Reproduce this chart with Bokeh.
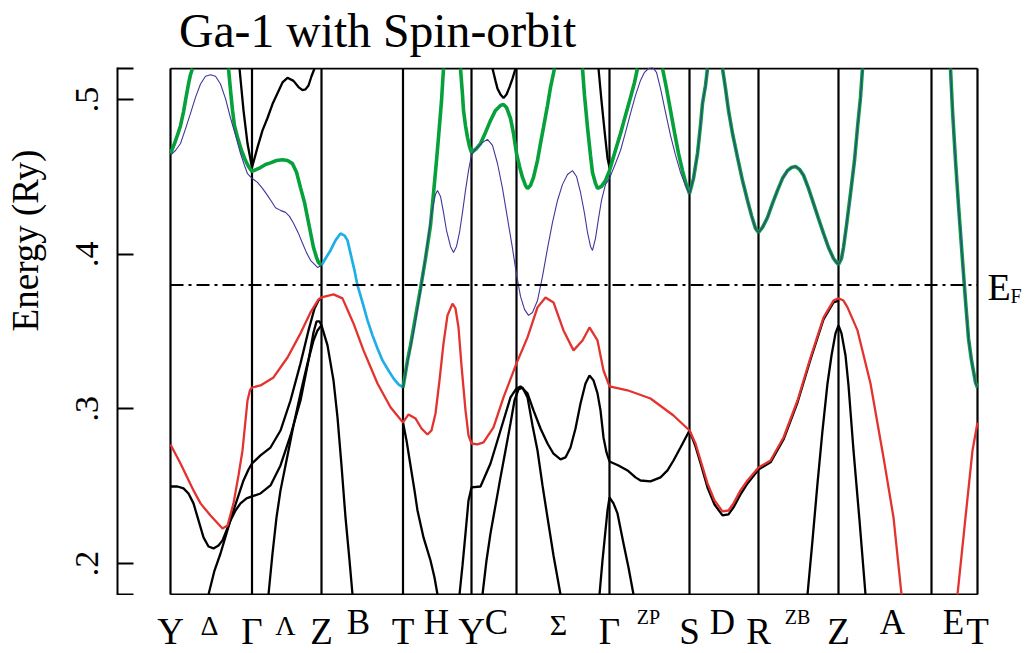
import math
from bokeh.plotting import figure
from bokeh.layouts import column, row
from bokeh.models import Range1d, FixedTicker, ColumnDataSource
from bokeh.core.properties import value
from bokeh.embed import file_html
from bokeh.resources import INLINE

# ---------------- data ----------------
TITLE = "Ga-1 with Spin-orbit"
Y_LABEL = "Energy (Ry)"
E_FERMI = 0.38
E_MIN, E_MAX = 0.18, 0.52

# high-symmetry points along the path (k distance, arbitrary units)
KPOS = [0.0, 0.815, 1.51, 2.325, 3.01, 3.46, 4.39, 5.19, 5.88, 6.68, 7.61, 8.07]
KLABELS = ["Y", "Γ", "Z", "T", "Y", "", "Γ", "S", "R", "Z", "", "T"]
MID_POS = [0.39, 1.15, 1.88, 2.66, 3.26, 3.88, 4.78, 5.52, 6.27, 7.22, 7.83]
MID_LABELS = ["Δ", "Λ", "B", "H", "C", "Σ", "ZP", "D", "ZB", "A", "E"]
Y_TICKS = [0.2, 0.3, 0.4, 0.5]
Y_TICK_LABELS = [".2", ".3", ".4", ".5"]

# bands: (k, E in Ry)
BLK_A = [(0.38, 0.180), (0.44, 0.1955), (0.50, 0.2065), (0.56, 0.2195), (0.62, 0.2324), (0.68, 0.244),
         (0.73, 0.2537), (0.78, 0.2608), (0.815, 0.2647), (0.90, 0.2699), (1.00, 0.275), (1.10, 0.286),
         (1.20, 0.3054), (1.30, 0.3294), (1.38, 0.3507), (1.44, 0.3649), (1.48, 0.370), (1.51, 0.372)]
BLK_B = [(0.00, 0.2498), (0.07, 0.2498), (0.13, 0.2486), (0.18, 0.2453), (0.23, 0.2389), (0.28, 0.2279),
         (0.33, 0.2169), (0.38, 0.211), (0.43, 0.2098), (0.48, 0.2117), (0.52, 0.215), (0.60, 0.2279),
         (0.65, 0.2343), (0.70, 0.2389), (0.76, 0.2421), (0.815, 0.2434), (0.90, 0.2453), (1.00, 0.2505),
         (1.10, 0.2634), (1.20, 0.2828), (1.30, 0.3054), (1.38, 0.3313), (1.43, 0.3494), (1.46, 0.3565),
         (1.49, 0.3565), (1.51, 0.354), (1.57, 0.341), (1.63, 0.3184), (1.67, 0.2945), (1.71, 0.2634),
         (1.75, 0.2298), (1.79, 0.202), (1.82, 0.180)]
BLK_D = [(0.98, 0.180), (1.02, 0.2065), (1.06, 0.2298), (1.10, 0.2473), (1.17, 0.2699), (1.23, 0.2893),
         (1.30, 0.310), (1.37, 0.3294), (1.43, 0.3442), (1.47, 0.3507), (1.51, 0.354)]
BLK_E = [(2.325, 0.2912), (2.36, 0.2796), (2.40, 0.2634), (2.44, 0.2473), (2.47, 0.2343), (2.53, 0.2169),
         (2.60, 0.202), (2.64, 0.191), (2.67, 0.180)]
BLK_F = [(2.89, 0.180), (2.92, 0.1988), (2.95, 0.2195), (2.98, 0.2408), (3.01, 0.2492), (3.10, 0.2498),
         (3.20, 0.2647), (3.30, 0.286), (3.40, 0.3074), (3.46, 0.3132), (3.50, 0.3145), (3.57, 0.310),
         (3.63, 0.299), (3.70, 0.2873), (3.77, 0.2776), (3.83, 0.271), (3.90, 0.2673), (3.95, 0.2686),
         (4.00, 0.275), (4.05, 0.2873), (4.10, 0.3035), (4.15, 0.3164), (4.19, 0.3216), (4.23, 0.3184),
         (4.27, 0.310), (4.30, 0.299), (4.33, 0.2815), (4.36, 0.2718), (4.39, 0.266), (4.48, 0.2634),
         (4.57, 0.2602), (4.65, 0.2557), (4.70, 0.2537), (4.80, 0.2531), (4.90, 0.2557), (4.97, 0.2602),
         (5.03, 0.2666), (5.10, 0.275), (5.19, 0.286), (5.25, 0.2757), (5.31, 0.2628), (5.37, 0.2492),
         (5.44, 0.2382), (5.52, 0.2311), (5.58, 0.2318), (5.63, 0.2363), (5.70, 0.2447), (5.77, 0.2518),
         (5.88, 0.2608), (6.00, 0.2654), (6.13, 0.2802), (6.27, 0.3041), (6.40, 0.332), (6.53, 0.3578),
         (6.63, 0.3688), (6.68, 0.370)]
BLK_G = [(3.12, 0.180), (3.16, 0.202), (3.20, 0.2195), (3.25, 0.2376), (3.30, 0.2557), (3.35, 0.2731),
         (3.40, 0.2906), (3.44, 0.3054), (3.48, 0.3126), (3.52, 0.3138), (3.57, 0.3074), (3.62, 0.2893),
         (3.67, 0.2731), (3.72, 0.2505), (3.77, 0.2298), (3.83, 0.2052), (3.90, 0.180)]
BLK_H = [(4.29, 0.180), (4.32, 0.202), (4.35, 0.2214), (4.37, 0.2343), (4.39, 0.2427), (4.43, 0.2389),
         (4.47, 0.2324), (4.50, 0.2227), (4.53, 0.213), (4.58, 0.1975), (4.63, 0.180)]
BLK_I = [(6.37, 0.180), (6.42, 0.215), (6.47, 0.2518), (6.52, 0.286), (6.57, 0.3164), (6.61, 0.3345),
         (6.65, 0.3488), (6.68, 0.354), (6.71, 0.3488), (6.75, 0.3345), (6.78, 0.3151), (6.83, 0.2731),
         (6.89, 0.2279), (6.95, 0.180)]
BLK_J = [(0.69, 0.520), (0.73, 0.493), (0.77, 0.4715), (0.815, 0.456), (0.87, 0.469), (0.92, 0.480),
         (0.97, 0.488), (1.02, 0.497), (1.07, 0.504), (1.12, 0.511), (1.17, 0.514), (1.23, 0.512),
         (1.28, 0.508), (1.32, 0.506), (1.35, 0.5065), (1.38, 0.509), (1.41, 0.515), (1.44, 0.520)]
BLK_K = [(3.22, 0.520), (3.25, 0.512), (3.27, 0.507), (3.30, 0.5032), (3.33, 0.501), (3.36, 0.5032),
         (3.39, 0.508), (3.42, 0.5135), (3.45, 0.520)]
BLK_L = [(4.28, 0.520), (4.31, 0.499), (4.34, 0.480), (4.37, 0.462), (4.39, 0.456), (4.44, 0.4651),
         (4.50, 0.478), (4.55, 0.4897), (4.60, 0.5013), (4.64, 0.511), (4.67, 0.520)]

RED_1 = [(0.00, 0.277), (0.10, 0.2647), (0.23, 0.2473), (0.30, 0.2389), (0.40, 0.2311), (0.52, 0.2227),
         (0.57, 0.2246), (0.63, 0.2389), (0.68, 0.257), (0.72, 0.2731), (0.77, 0.3054), (0.795, 0.312),
         (0.815, 0.3138), (0.90, 0.3151), (1.03, 0.3203), (1.17, 0.3332), (1.30, 0.3488), (1.40, 0.3623),
         (1.48, 0.3707), (1.51, 0.372), (1.63, 0.374), (1.72, 0.3714), (1.83, 0.3552), (1.93, 0.3378),
         (2.07, 0.3164), (2.20, 0.301), (2.325, 0.2912), (2.38, 0.2964), (2.45, 0.2938), (2.51, 0.2873),
         (2.57, 0.2834), (2.61, 0.286), (2.65, 0.297), (2.69, 0.3184), (2.73, 0.3423), (2.77, 0.3604),
         (2.82, 0.368), (2.85, 0.3649), (2.88, 0.3526), (2.91, 0.328), (2.95, 0.299), (2.98, 0.2828),
         (3.01, 0.2776), (3.07, 0.277), (3.13, 0.2783), (3.23, 0.288), (3.33, 0.3074), (3.46, 0.3294),
         (3.57, 0.3462), (3.67, 0.3656), (3.75, 0.372), (3.83, 0.3688), (3.93, 0.3507), (4.03, 0.3378),
         (4.12, 0.3442), (4.19, 0.3526), (4.27, 0.3442), (4.33, 0.3248), (4.39, 0.3145), (4.57, 0.312),
         (4.80, 0.3067), (5.03, 0.2957), (5.19, 0.286), (5.25, 0.2776), (5.31, 0.2647), (5.37, 0.2518),
         (5.44, 0.2408), (5.52, 0.2337), (5.58, 0.2343), (5.63, 0.2389), (5.70, 0.2473), (5.77, 0.2537),
         (5.88, 0.2621), (6.00, 0.2666), (6.13, 0.2815), (6.27, 0.3054), (6.40, 0.3332), (6.53, 0.359),
         (6.63, 0.370), (6.68, 0.3714), (6.73, 0.370), (6.77, 0.3656), (6.87, 0.3507), (7.00, 0.3164),
         (7.13, 0.2686), (7.23, 0.2298), (7.31, 0.180)]
RED_2 = [(7.87, 0.180), (7.95, 0.2298), (8.02, 0.2731), (8.07, 0.2912)]

CYAN_1 = [(1.51, 0.3927), (1.55, 0.3972), (1.60, 0.4024), (1.65, 0.4089), (1.70, 0.4134), (1.74, 0.412),
          (1.77, 0.4089), (1.80, 0.4005), (1.84, 0.3895), (1.87, 0.3798), (1.92, 0.3688), (1.97, 0.3572),
          (2.02, 0.3475), (2.07, 0.339), (2.12, 0.3313), (2.18, 0.3248), (2.23, 0.3197), (2.28, 0.3158),
          (2.325, 0.3138)]

GRN_1 = [(0.00, 0.465), (0.04, 0.4715), (0.07, 0.477), (0.10, 0.483), (0.13, 0.492), (0.16, 0.503),
         (0.18, 0.510), (0.20, 0.516), (0.22, 0.520)]
GRN_2 = [(0.58, 0.520), (0.60, 0.506), (0.62, 0.493), (0.64, 0.483), (0.67, 0.4755), (0.71, 0.467),
         (0.75, 0.4605), (0.78, 0.4567), (0.815, 0.4535), (0.86, 0.4548), (0.90, 0.456), (0.95, 0.458),
         (1.00, 0.459), (1.06, 0.4605), (1.12, 0.461), (1.17, 0.4605), (1.22, 0.4585), (1.26, 0.453),
         (1.30, 0.443), (1.34, 0.4334), (1.37, 0.4237), (1.40, 0.414), (1.43, 0.4043), (1.46, 0.3979),
         (1.48, 0.3946), (1.51, 0.3927)]
GRN_3 = [(2.325, 0.3138), (2.35, 0.3235), (2.37, 0.3313), (2.40, 0.341), (2.43, 0.352), (2.47, 0.3668),
         (2.50, 0.3778), (2.55, 0.3972), (2.60, 0.4186), (2.63, 0.4392), (2.66, 0.4605), (2.68, 0.4755),
         (2.71, 0.499), (2.73, 0.520)]
GRN_4 = [(2.90, 0.520), (2.92, 0.503), (2.93, 0.493), (2.95, 0.483), (2.97, 0.4755), (2.99, 0.4696),
         (3.01, 0.4657), (3.06, 0.4683), (3.10, 0.4715), (3.15, 0.4787), (3.20, 0.4864), (3.25, 0.4929),
         (3.30, 0.4961), (3.33, 0.4968), (3.36, 0.4948), (3.40, 0.4877), (3.43, 0.478), (3.46, 0.4651),
         (3.49, 0.4567), (3.52, 0.4496), (3.55, 0.4444), (3.57, 0.4425), (3.60, 0.4444), (3.63, 0.4496),
         (3.67, 0.4606), (3.70, 0.4716), (3.73, 0.4819), (3.77, 0.4961), (3.80, 0.5078), (3.84, 0.520)]
GRN_5 = [(4.12, 0.520), (4.14, 0.5026), (4.17, 0.4819), (4.20, 0.4638), (4.22, 0.4528), (4.25, 0.4457),
         (4.27, 0.4425), (4.31, 0.4438), (4.35, 0.4476), (4.39, 0.454), (4.44, 0.4651), (4.50, 0.478),
         (4.55, 0.4897), (4.60, 0.5013), (4.64, 0.511), (4.67, 0.520)]
GRN_6 = [(4.92, 0.520), (4.96, 0.5071), (5.00, 0.4929), (5.04, 0.4787), (5.08, 0.4651), (5.12, 0.454),
         (5.16, 0.4444), (5.19, 0.4392), (5.23, 0.449), (5.27, 0.4651), (5.30, 0.4832), (5.32, 0.4974),
         (5.35, 0.509), (5.37, 0.520)]
GRN_7 = [(5.52, 0.520), (5.55, 0.5071), (5.58, 0.4929), (5.62, 0.478), (5.67, 0.4625), (5.72, 0.4476),
         (5.77, 0.4347), (5.81, 0.425), (5.85, 0.4166), (5.88, 0.414), (5.92, 0.4173), (5.97, 0.4237),
         (6.02, 0.4328), (6.07, 0.4412), (6.12, 0.449), (6.17, 0.454), (6.21, 0.456), (6.25, 0.4567),
         (6.29, 0.4548), (6.33, 0.451), (6.38, 0.4425), (6.43, 0.4328), (6.48, 0.423), (6.53, 0.4134),
         (6.58, 0.4043), (6.63, 0.3972), (6.66, 0.3946), (6.68, 0.3934), (6.71, 0.3972), (6.73, 0.4043),
         (6.76, 0.4186), (6.80, 0.4392), (6.84, 0.4605), (6.87, 0.4819), (6.90, 0.5013), (6.92, 0.520)]
GRN_8 = [(7.80, 0.520), (7.82, 0.493), (7.85, 0.4605), (7.88, 0.4315), (7.92, 0.396), (7.95, 0.370),
         (7.98, 0.3455), (8.01, 0.3313), (8.05, 0.317), (8.07, 0.3138)]

PUR_1 = [(0.00, 0.464), (0.05, 0.467), (0.10, 0.4715), (0.15, 0.481), (0.20, 0.491), (0.25, 0.5013),
         (0.30, 0.510), (0.35, 0.515), (0.40, 0.516), (0.45, 0.515), (0.50, 0.510), (0.55, 0.5005),
         (0.60, 0.488), (0.65, 0.477), (0.70, 0.465), (0.74, 0.4573), (0.77, 0.452), (0.815, 0.449),
         (0.87, 0.4464), (0.92, 0.4425), (0.97, 0.438), (1.01, 0.434), (1.05, 0.430), (1.10, 0.4283),
         (1.15, 0.427), (1.19, 0.4244), (1.23, 0.420), (1.28, 0.4134), (1.32, 0.407), (1.36, 0.401),
         (1.40, 0.396), (1.44, 0.3934), (1.47, 0.3914), (1.51, 0.3927)]
PUR_2 = [(2.325, 0.3138), (2.37, 0.33), (2.43, 0.3494), (2.48, 0.3688), (2.52, 0.385), (2.56, 0.4024),
         (2.59, 0.4166), (2.62, 0.4296), (2.65, 0.4386), (2.67, 0.4412), (2.70, 0.4373), (2.73, 0.427),
         (2.76, 0.4153), (2.80, 0.405), (2.83, 0.401), (2.86, 0.405), (2.89, 0.414), (2.92, 0.427),
         (2.95, 0.4412), (2.98, 0.454), (3.01, 0.464), (3.04, 0.467), (3.07, 0.469), (3.12, 0.4722),
         (3.17, 0.4742), (3.22, 0.4703), (3.27, 0.4586), (3.32, 0.4425), (3.37, 0.4231), (3.42, 0.4037),
         (3.46, 0.3869), (3.50, 0.3727), (3.54, 0.3643), (3.58, 0.3604), (3.62, 0.3623), (3.67, 0.370),
         (3.72, 0.3856), (3.77, 0.4037), (3.82, 0.4205), (3.87, 0.4347), (3.92, 0.4451), (3.97, 0.4515),
         (4.02, 0.454), (4.06, 0.4502), (4.10, 0.440), (4.14, 0.4263), (4.17, 0.414), (4.20, 0.405),
         (4.22, 0.4024), (4.25, 0.4102), (4.28, 0.423), (4.31, 0.4347), (4.35, 0.4451), (4.39, 0.449),
         (4.45, 0.4586), (4.50, 0.467), (4.55, 0.4787), (4.60, 0.491), (4.65, 0.5026), (4.70, 0.5123),
         (4.74, 0.5175), (4.78, 0.520), (4.82, 0.5207), (4.86, 0.5175), (4.90, 0.5071), (4.95, 0.4916),
         (5.00, 0.4767), (5.05, 0.464), (5.10, 0.4528), (5.15, 0.4444), (5.19, 0.4392), (5.23, 0.449),
         (5.27, 0.4651), (5.30, 0.4832), (5.32, 0.4974), (5.35, 0.509), (5.37, 0.520)]

BLACK_BANDS = [BLK_A, BLK_B, BLK_D, BLK_E, BLK_F, BLK_G, BLK_H, BLK_I, BLK_J, BLK_K, BLK_L]
RED_BANDS = [RED_1, RED_2]
CYAN_BANDS = [CYAN_1]
GREEN_BANDS = [GRN_1, GRN_2, GRN_3, GRN_4, GRN_5, GRN_6, GRN_7, GRN_8]
PURPLE_BANDS = [PUR_1, PUR_2, GRN_7, GRN_8]

# ---------------- layout ----------------
FONT = "Liberation Serif"
MID = 0.3375                           # baseline-to-middle distance, in em
W, H = 1029, 653
TOP_H, MAIN_H, BOT_H = 67, 528, 58     # title strip, band panel, k-label strip
YLAB_W = 50                            # strip holding the y-axis title
AXIS_W = 67                            # room for tick labels inside the band figure
FRAME_LEFT = YLAB_W + AXIS_W           # 117
FRAME_W = W - FRAME_LEFT
PX_PER_K = 100.0
X_START = KPOS[0] - 53 / PX_PER_K
X_END = X_START + FRAME_W / PX_PER_K
PX_PER_E = (MAIN_H - 2) / (E_MAX - E_MIN)
PAD = 1 / PX_PER_E

xr = Range1d(X_START, X_END)


def strip(width, height, x_range, y_range, left=0):
    f = figure(width=width, height=height, output_backend="svg", toolbar_location=None,
               x_range=x_range, y_range=y_range, x_axis_location=None, y_axis_location=None,
               min_border_left=left, min_border_right=0, min_border_top=0, min_border_bottom=0)
    f.outline_line_color = None
    f.grid.visible = False
    f.background_fill_color = "white"
    f.border_fill_color = "white"
    return f


def text_y(strip_h, baseline_from_top, size):
    # y (measured upward in the strip) of a middle-anchored text whose baseline sits
    # baseline_from_top pixels below the strip's top edge
    return strip_h - (baseline_from_top - MID * size)


# main band panel
p = figure(width=W - YLAB_W, height=MAIN_H, output_backend="svg", toolbar_location=None,
           x_range=xr, y_range=Range1d(E_MIN - PAD, E_MAX + PAD),
           x_axis_location=None, y_axis_location="left",
           min_border_left=AXIS_W, min_border_right=0, min_border_top=0, min_border_bottom=0)
p.outline_line_color = None
p.grid.visible = False
p.background_fill_color = "white"
p.border_fill_color = "white"

ax = p.yaxis[0]
ax.ticker = FixedTicker(ticks=[E_MIN] + Y_TICKS + [E_MAX])
overrides = {E_MIN: "", E_MAX: ""}
overrides.update(dict(zip(Y_TICKS, Y_TICK_LABELS)))
ax.major_label_overrides = overrides
ax.major_tick_in = 16
ax.major_tick_out = 0
ax.minor_tick_line_color = None
ax.major_tick_line_width = 2
ax.axis_line_width = 2
ax.major_tick_line_color = "black"
ax.axis_line_color = "black"
ax.major_label_orientation = "vertical"
ax.major_label_text_font = FONT
ax.major_label_text_font_size = "34px"
ax.major_label_text_color = "black"
ax.major_label_standoff = 19

n = len(KPOS)
p.segment(x0=KPOS, y0=[E_MIN] * n, x1=KPOS, y1=[E_MAX] * n, line_color="black", line_width=2.2)
p.segment(x0=[KPOS[0]] * 2, y0=[E_MIN, E_MAX], x1=[KPOS[-1]] * 2, y1=[E_MIN, E_MAX],
          line_color="black", line_width=2.2)


def xs_ys(bands):
    return [[k for k, _ in b] for b in bands], [[e for _, e in b] for b in bands]


bx, by = xs_ys(BLACK_BANDS)
p.multi_line(bx, by, line_color="black", line_width=2.3)
rx, ry = xs_ys(RED_BANDS)
p.multi_line(rx, ry, line_color="#e2332e", line_width=2.3)
cx, cy = xs_ys(CYAN_BANDS)
p.multi_line(cx, cy, line_color="#1eaee8", line_width=2.7)
gx, gy = xs_ys(GREEN_BANDS)
p.multi_line(gx, gy, line_color="#07a13c", line_width=3.6)
pxs, pys = xs_ys(PURPLE_BANDS)
p.multi_line(pxs, pys, line_color="#41379a", line_width=1.1)

p.line([KPOS[0], KPOS[-1]], [E_FERMI, E_FERMI], line_color="black", line_width=2,
       line_dash="13 5 3 5")

# E_F label (baseline 15 px below the Fermi line; subscript 18 px below)
p.text(x=[KPOS[-1] + 0.10], y=[E_FERMI - (15 - MID * 38) / PX_PER_E], text=["E"],
       text_font=value(FONT), text_font_size=value("38px"), text_color="black",
       text_align="left", text_baseline="middle")
p.text(x=[KPOS[-1] + 0.33], y=[E_FERMI - (18 - MID * 20) / PX_PER_E], text=["F"],
       text_font=value(FONT), text_font_size=value("20px"), text_color="black",
       text_align="left", text_baseline="middle")

# title strip
top = strip(W, TOP_H, xr, Range1d(0, TOP_H), left=FRAME_LEFT)
top.text(x=[KPOS[0] + 0.085], y=[text_y(TOP_H, 46, 47.7)], text=[TITLE], text_font=value(FONT),
         text_font_size=value("47.7px"), text_color="black", text_align="left",
         text_baseline="middle")

# y-axis title strip
ylab = strip(YLAB_W, MAIN_H, Range1d(0, YLAB_W), Range1d(0, MAIN_H))
ylab.text(x=[37 - MID * 37], y=[MAIN_H - (240 - TOP_H)], text=[Y_LABEL], text_font=value(FONT),
          text_font_size=value("37px"), text_color="black", text_align="center",
          text_baseline="middle", angle=math.pi / 2)

# k-point label strip (baselines in page pixels: 643 main, 634 raised, 623 small)
bot = strip(W, BOT_H, xr, Range1d(0, BOT_H), left=FRAME_LEFT)
BOT_TOP = TOP_H + MAIN_H
main_pts = [(k, lab) for k, lab in zip(KPOS, KLABELS) if lab]
bot.text(x=[k for k, _ in main_pts], y=[text_y(BOT_H, 643 - BOT_TOP, 37)] * len(main_pts),
         text=[lab for _, lab in main_pts], text_font=value(FONT), text_font_size=value("37px"),
         text_color="black", text_align="center", text_baseline="middle")
mid_sizes, mid_y = [], []
for lab in MID_LABELS:
    if len(lab) == 2:
        s, base = 20, 623
    elif lab in ("Δ", "Λ"):
        s, base = 28, 634
    elif lab == "Σ":
        s, base = 30, 634
    else:
        s, base = 35, 634
    mid_sizes.append(f"{s}px")
    mid_y.append(text_y(BOT_H, base - BOT_TOP, s))
src = ColumnDataSource(dict(x=MID_POS, y=mid_y, text=MID_LABELS, size=mid_sizes))
bot.text(x="x", y="y", text="text", text_font_size="size", source=src, text_font=value(FONT),
         text_color="black", text_align="center", text_baseline="middle")

layout = column(top, row(ylab, p, spacing=0), bot, spacing=0)
open("out.html", "w").write(file_html(layout, INLINE))
